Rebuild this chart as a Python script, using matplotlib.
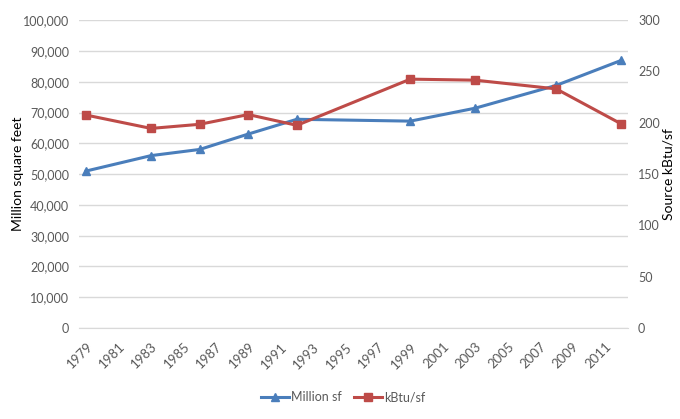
import matplotlib.pyplot as plt
from matplotlib.ticker import FuncFormatter

years = [1979, 1983, 1986, 1989, 1992, 1999, 2003, 2008, 2012]
million_sf = [51000, 56000, 58000, 63000, 67800, 67200, 71400, 78800, 86900]
kbtu_sf = [207.5, 194.5, 198.5, 208, 197.5, 242.5, 241.5, 233, 199]
tick_years = list(range(1979, 2012, 2))

blue = '#4A7EBB'
red = '#BE4B48'
grey = '#595959'

plt.rcParams['font.family'] = ['Lato', 'DejaVu Sans']

fig = plt.figure(figsize=(6.8, 4.19), dpi=100)
ax = fig.add_axes([0.116, 0.217, 0.808, 0.735])
ax2 = ax.twinx()

l1, = ax.plot(years, million_sf, color=blue, linewidth=2.2, marker='^',
              markersize=6, label='Million sf', zorder=3)
l2, = ax2.plot(years, kbtu_sf, color=red, linewidth=2.2, marker='s',
               markersize=5.5, label='kBtu/sf', zorder=3)

ax.set_xlim(1978.55, 2012.45)
ax.set_ylim(0, 100000)
ax2.set_ylim(0, 300)
ax.set_yticks(range(0, 100001, 10000))
ax2.set_yticks(range(0, 301, 50))
ax.yaxis.set_major_formatter(FuncFormatter(lambda v, p: f'{int(v):,}'))

ax.set_xticks(tick_years)
ax.set_xticklabels([str(y) for y in tick_years], rotation=45,
                   ha='right', va='top', rotation_mode='anchor')

ax.grid(axis='y', color='#D9D9D9', linewidth=1)
ax.set_axisbelow(True)
for a in (ax, ax2):
    for s in a.spines.values():
        s.set_visible(False)
    a.tick_params(length=0, labelsize=9, colors=grey, pad=7)
ax.spines['bottom'].set_visible(True)
ax.spines['bottom'].set_color('#D9D9D9')
ax.tick_params(axis='x', labelsize=9.5, pad=9)

ax.set_ylabel('Million square feet', fontsize=10, color='black')
ax2.set_ylabel('Source kBtu/sf', fontsize=10, color='black')
ax.yaxis.set_label_coords(-0.100, 0.5)
ax2.yaxis.set_label_coords(1.062, 0.5)

fig.legend(handles=[l1, l2], loc='center', bbox_to_anchor=(0.505, 0.052),
           ncol=2, frameon=False, fontsize=9, handlelength=2.2,
           columnspacing=1.0, handletextpad=0.2, labelcolor=grey)

fig.savefig('out.png', dpi=100)
